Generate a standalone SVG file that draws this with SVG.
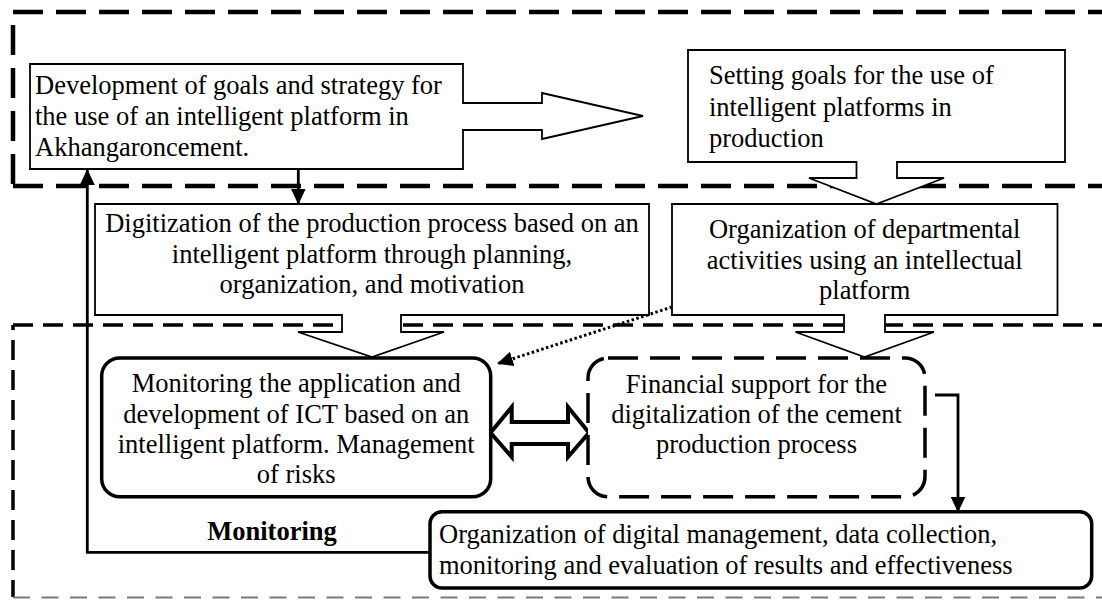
<svg xmlns="http://www.w3.org/2000/svg" width="1102" height="600" viewBox="0 0 1102 600">
<style>
.t{font-family:"Liberation Serif","Times New Roman",serif;font-size:26.5px;fill:#000}
.c{text-anchor:middle}
.b{font-weight:bold}
.box{fill:#fff;stroke:#000;stroke-width:1.8;stroke-linejoin:miter}
.rbox{fill:#fff;stroke:#000;stroke-width:3.5}
.reg1{fill:none;stroke:#000;stroke-width:4.5;stroke-dasharray:30 13}
.reg2{fill:none;stroke:#000;stroke-width:3.5;stroke-dasharray:20 10}
.conn{fill:none;stroke:#000;stroke-width:2.8}
</style>
<defs>
<marker id="ah" viewBox="0 0 16 16" refX="15" refY="8" markerWidth="16" markerHeight="16" orient="auto" markerUnits="userSpaceOnUse">
<path d="M0,0.5 L16,8 L0,15.5 Z" fill="#000"/>
</marker>
</defs>
<g id="regions">
<line class="reg1" x1="13" y1="12" x2="1102" y2="12"/>
<line class="reg1" x1="13" y1="12" x2="13" y2="186" stroke-dashoffset="30"/>
<line class="reg1" x1="13" y1="186" x2="1102" y2="186"/>
<line class="reg2" x1="13" y1="325" x2="1102" y2="325"/>
<line class="reg2" x1="13" y1="325" x2="13" y2="597" stroke-width="4.5" stroke-dasharray="18 12" stroke-dashoffset="15"/>
<line x1="13" y1="597.5" x2="1102" y2="597.5" stroke="#7a7a7a" stroke-width="2" stroke-dasharray="17 11.5"/>
</g>
<g id="connectors">
<path class="conn" d="M430,552.3 H87.3 V170" marker-end="url(#ah)"/>
<path class="conn" d="M298.3,169 V203.5" marker-end="url(#ah)"/>
<path class="conn" d="M935,395 H958 V511.5" marker-end="url(#ah)"/>
<path d="M672,307 L498,363.5" fill="none" stroke="#000" stroke-width="3" stroke-dasharray="2.5 2.5" marker-end="url(#ah)"/>
<path d="M490.5,432.7 L511.7,407 V422 H568 V407 L589,432.7 L568,457 V444 H511.7 V457 Z" fill="#fff" stroke="#000" stroke-width="4" stroke-linejoin="miter"/>
</g>
<g id="node-goals-strategy">
<path class="box" d="M30,64 H463 V103 H542 V93 L643,116 L542,139 V130 H463 V169 H30 Z"/>
<text class="t" x="35" y="93.5">Development of goals and strategy for</text>
<text class="t" x="35" y="124.5">the use of an intelligent platform in</text>
<text class="t" x="35" y="155.5">Akhangaroncement.</text>
</g>
<g id="node-setting-goals">
<path class="box" d="M688,50 H1065 V162 H897 V178 H944 L876.5,204 L809,178 H856.5 V162 H688 Z"/>
<text class="t" x="709" y="84">Setting goals for the use of</text>
<text class="t" x="709" y="115.5">intelligent platforms in</text>
<text class="t" x="709" y="147">production</text>
</g>
<g id="node-digitization">
<path class="box" d="M95,204 H649 V315 H401 V332 H444 L372,357 L298,332 H342 V315 H95 Z"/>
<text class="t c" x="372" y="232">Digitization of the production process based on an</text>
<text class="t c" x="372" y="262.5">intelligent platform through planning,</text>
<text class="t c" x="372" y="293">organization, and motivation</text>
</g>
<g id="node-departmental">
<path class="box" d="M672,204 H1057.5 V315 H885 V332 H934 L864.5,357 L795.5,332 H844 V315 H672 Z"/>
<text class="t c" x="864.7" y="238.3">Organization of departmental</text>
<text class="t c" x="864.7" y="268.5">activities using an intellectual</text>
<text class="t c" x="864.7" y="299">platform</text>
</g>
<g id="node-monitoring-ict">
<rect class="rbox" x="101.7" y="358" width="389" height="138.7" rx="18"/>
<text class="t c" x="296.2" y="392">Monitoring the application and</text>
<text class="t c" x="296.2" y="422.5">development of ICT based on an</text>
<text class="t c" x="296.2" y="453">intelligent platform. Management</text>
<text class="t c" x="296.2" y="483.3">of risks</text>
</g>
<g id="node-financial">
<rect x="588" y="358" width="337" height="138.7" rx="20" fill="#fff" stroke="#000" stroke-width="3.5" stroke-dasharray="30 12"/>
<text class="t c" x="756.5" y="392.5">Financial support for the</text>
<text class="t c" x="756.5" y="423">digitalization of the cement</text>
<text class="t c" x="756.5" y="453.3">production process</text>
</g>
<g id="node-digital-management">
<rect class="rbox" x="430" y="511.7" width="661.7" height="76.3" rx="12"/>
<text class="t" x="439" y="543">Organization of digital management, data collection,</text>
<text class="t" x="439" y="574">monitoring and evaluation of results and effectiveness</text>
</g>
<g id="label-monitoring">
<text class="t c b" x="272" y="540">Monitoring</text>
</g>
</svg>
